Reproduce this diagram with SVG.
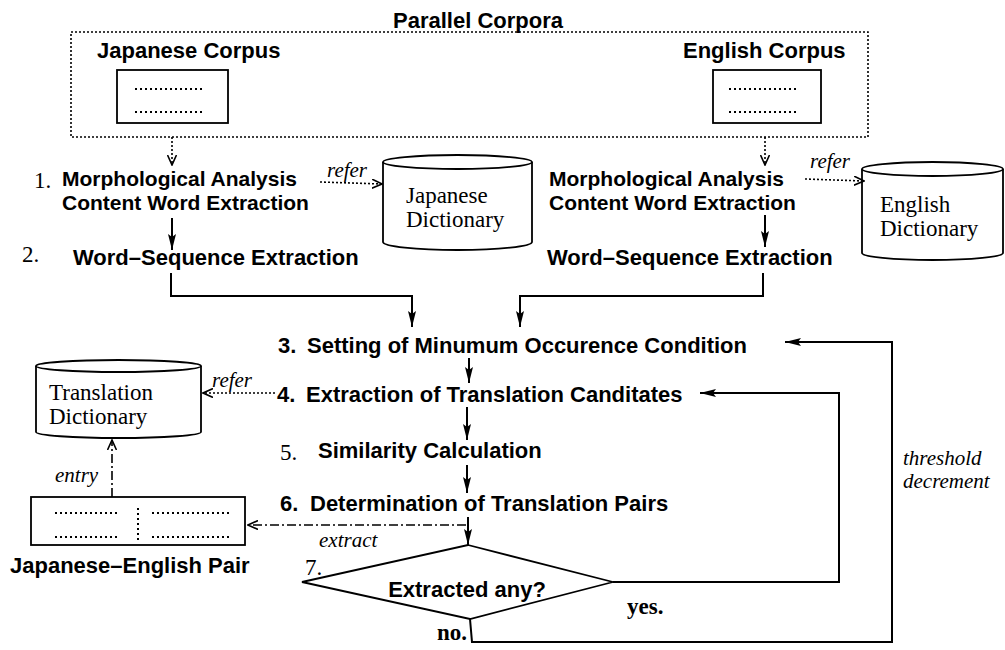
<svg xmlns="http://www.w3.org/2000/svg" width="1005" height="650" viewBox="0 0 1005 650">
<style>
.s{font-family:"Liberation Sans",Arial,sans-serif;font-weight:bold;font-size:22px;fill:#000}
.s2{font-family:"Liberation Sans",Arial,sans-serif;font-weight:bold;font-size:21px;fill:#000}
.r{font-family:"Liberation Serif","Times New Roman",serif;font-size:23px;fill:#000}
.n{font-family:"Liberation Serif","Times New Roman",serif;font-size:23px;fill:#000}
.i{font-family:"Liberation Serif","Times New Roman",serif;font-style:italic;font-size:21px;fill:#000}
.ln{fill:none;stroke:#000;stroke-width:2}
.box{fill:#fff;stroke:#000;stroke-width:1.8}
.dot{fill:none;stroke:#000;stroke-width:1.6;stroke-dasharray:2 2}
.dash{fill:none;stroke:#000;stroke-width:1.6;stroke-dasharray:9 3 2 3}
.rows{stroke:#000;stroke-width:2;stroke-dasharray:2 3}
</style>
<defs>
<marker id="fa" viewBox="0 0 16 8" refX="16" refY="4" markerWidth="16" markerHeight="8" markerUnits="userSpaceOnUse" orient="auto"><path d="M0,0 L16,4 L0,8 L3,4 z" fill="#000"/></marker>
<marker id="oa" viewBox="0 0 11 10" refX="10" refY="5" markerWidth="11" markerHeight="10" markerUnits="userSpaceOnUse" orient="auto"><path d="M0,0.5 L10,5 L0,9.5" fill="none" stroke="#000" stroke-width="1.6"/></marker>
</defs>
<rect width="1005" height="650" fill="#fff"/>

<g id="parallel-corpora">
<rect x="71" y="32" width="797" height="105" class="dot"/>
<text x="393" y="28" class="s">Parallel Corpora</text>
</g>
<g id="japanese-corpus">
<text x="97" y="58" class="s">Japanese Corpus</text>
<rect x="117" y="70" width="111" height="53" class="box"/>
<line x1="135" y1="89" x2="204" y2="89" class="rows"/>
<line x1="135" y1="112" x2="204" y2="112" class="rows"/>
</g>
<g id="english-corpus">
<text x="683" y="58" class="s">English Corpus</text>
<rect x="713" y="70" width="108" height="53" class="box"/>
<line x1="729" y1="89" x2="798" y2="89" class="rows"/>
<line x1="729" y1="112" x2="798" y2="112" class="rows"/>
</g>

<g id="step1-jp">
<text x="34" y="188" class="n">1.</text>
<text x="62" y="186" class="s2">Morphological Analysis</text>
<text x="62" y="210" class="s2">Content Word Extraction</text>
</g>
<g id="step1-en">
<text x="549" y="186" class="s2">Morphological Analysis</text>
<text x="549" y="210" class="s2">Content Word Extraction</text>
</g>
<g id="japanese-dictionary">
<path d="M383,162 L383,242 A74.5,8 0 0 0 532,242 L532,162" class="box"/>
<ellipse cx="457.5" cy="162" rx="74.5" ry="7" class="box"/>
<text x="406" y="203" class="r">Japanese</text>
<text x="406" y="227" class="r">Dictionary</text>
</g>
<g id="english-dictionary">
<path d="M862,169 L862,253 A70.5,7 0 0 0 1003,253 L1003,169" class="box"/>
<ellipse cx="932.5" cy="169" rx="70.5" ry="7" class="box"/>
<text x="880" y="212" class="r">English</text>
<text x="880" y="236" class="r">Dictionary</text>
</g>
<g id="step2-jp">
<text x="22" y="262" class="n">2.</text>
<text x="73" y="265" class="s">Word–Sequence Extraction</text>
</g>
<g id="step2-en">
<text x="547" y="265" class="s">Word–Sequence Extraction</text>
</g>
<g id="step3">
<text x="278" y="353" class="s">3.</text>
<text x="307" y="353" class="s">Setting of Minumum Occurence Condition</text>
</g>
<g id="step4">
<text x="277" y="402" class="s">4.</text>
<text x="306" y="402" class="s">Extraction of Translation Canditates</text>
</g>
<g id="step5">
<text x="280" y="460" class="n">5.</text>
<text x="318" y="458" class="s">Similarity Calculation</text>
</g>
<g id="step6">
<text x="280" y="511" class="s">6.</text>
<text x="310" y="511" class="s">Determination of Translation Pairs</text>
</g>
<g id="step7">
<path d="M468,545 L613,582 L470,619 L302,582 Z" class="box"/>
<text x="305" y="575" class="n">7.</text>
<text x="467" y="597" class="s" text-anchor="middle">Extracted any?</text>
</g>
<g id="translation-dictionary">
<path d="M36,366 L36,432 A82.5,6 0 0 0 201,432 L201,366" class="box"/>
<ellipse cx="118.5" cy="366" rx="82.5" ry="6" class="box"/>
<text x="49" y="400" class="r">Translation</text>
<text x="49" y="424" class="r">Dictionary</text>
</g>
<g id="je-pair">
<rect x="31" y="497" width="214" height="48" class="box"/>
<line x1="55" y1="513" x2="119" y2="513" class="rows"/>
<line x1="55" y1="537" x2="119" y2="537" class="rows"/>
<line x1="152" y1="513" x2="230" y2="513" class="rows"/>
<line x1="152" y1="537" x2="230" y2="537" class="rows"/>
<line x1="138" y1="508" x2="138" y2="542" class="rows"/>
<text x="10" y="573" class="s">Japanese–English Pair</text>
</g>

<g id="connectors">
<line x1="172" y1="137" x2="172" y2="165" class="dot" marker-end="url(#oa)"/>
<line x1="765" y1="137" x2="765" y2="165" class="dot" marker-end="url(#oa)"/>
<line x1="320" y1="182" x2="382" y2="184" class="dot" marker-end="url(#oa)"/>
<line x1="805" y1="179" x2="864" y2="181" class="dot" marker-end="url(#oa)"/>
<line x1="172" y1="218" x2="172" y2="250" class="ln" marker-end="url(#fa)"/>
<line x1="765" y1="215" x2="765" y2="247" class="ln" marker-end="url(#fa)"/>
<polyline points="171,273 171,296 412,296 412,327" class="ln" marker-end="url(#fa)"/>
<polyline points="763,273 763,296 520,296 520,327" class="ln" marker-end="url(#fa)"/>
<line x1="469" y1="358" x2="469" y2="383" class="ln" marker-end="url(#fa)"/>
<line x1="467" y1="407" x2="467" y2="440" class="ln" marker-end="url(#fa)"/>
<line x1="467" y1="465" x2="467" y2="493" class="ln" marker-end="url(#fa)"/>
<line x1="468" y1="517" x2="468" y2="545" class="ln" marker-end="url(#fa)"/>
<line x1="275" y1="393" x2="203" y2="393" class="dot" marker-end="url(#oa)"/>
<line x1="466" y1="525" x2="248" y2="525" class="dash" marker-end="url(#oa)"/>
<line x1="112" y1="497" x2="112" y2="440" class="dash" marker-end="url(#oa)"/>
<polyline points="613,582 839,582 839,393 700,393" class="ln" marker-end="url(#fa)"/>
<polyline points="470,619 472,642 892,642 892,342 785,342" class="ln" marker-end="url(#fa)"/>
<text x="327" y="177" class="i">refer</text>
<text x="810" y="168" class="i">refer</text>
<text x="212" y="387" class="i">refer</text>
<text x="55" y="482" class="i">entry</text>
<text x="319" y="547" class="i">extract</text>
<text x="627" y="614" class="n" font-weight="bold">yes.</text>
<text x="437" y="640" class="n" font-weight="bold">no.</text>
<text x="903" y="465" class="i" font-size="23">threshold</text>
<text x="903" y="488" class="i" font-size="23">decrement</text>
</g>
</svg>
